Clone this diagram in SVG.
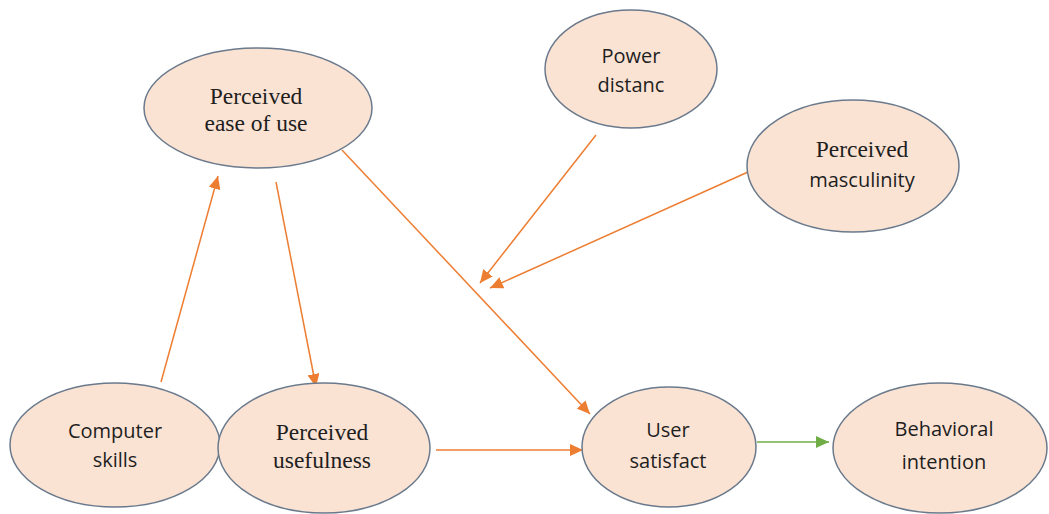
<svg xmlns="http://www.w3.org/2000/svg" width="1049" height="514" viewBox="0 0 1049 514">
<style>
.node{fill:#fbe3d4;stroke:#6a7a8c;stroke-width:1.5}
.sans{font-family:"Open Sans","Liberation Sans",sans-serif;font-size:20px;fill:#1e1e1e;text-anchor:middle}
.serif{font-family:"Liberation Serif","DejaVu Serif",serif;font-size:23.5px;fill:#1e1e1e;text-anchor:middle}
.or{stroke:#ed7d31;stroke-width:1.5;fill:none;marker-end:url(#ao)}
.gr{stroke:#70ad47;stroke-width:1.5;fill:none;marker-end:url(#ag)}
</style>
<defs>
<marker id="ao" markerUnits="userSpaceOnUse" markerWidth="14" markerHeight="12" refX="13" refY="6" orient="auto"><path d="M0,0 L13,6 L0,12 z" fill="#ed7d31"/></marker>
<marker id="ag" markerUnits="userSpaceOnUse" markerWidth="14" markerHeight="12" refX="13" refY="6" orient="auto"><path d="M0,0 L13,6 L0,12 z" fill="#70ad47"/></marker>
</defs>
<rect width="1049" height="514" fill="#fff"/>
<g id="connectors">
<line class="or" x1="161" y1="382" x2="218" y2="176"/>
<line class="or" x1="276" y1="182" x2="316" y2="387"/>
<line class="or" x1="342" y1="150" x2="590" y2="414"/>
<line class="or" x1="436" y1="450" x2="583" y2="450"/>
<line class="or" x1="596" y1="135" x2="480" y2="283"/>
<line class="or" x1="748" y1="172" x2="490" y2="288"/>
<line class="gr" x1="757" y1="442" x2="829" y2="442"/>
</g>
<g id="ease">
<ellipse class="node" cx="258" cy="108" rx="114" ry="60"/>
<text class="serif" x="256" y="104">Perceived</text>
<text class="serif" x="256" y="131">ease of use</text>
</g>
<g id="power">
<ellipse class="node" cx="631" cy="69" rx="86" ry="59"/>
<text class="sans" x="631" y="63">Power</text>
<text class="sans" x="631" y="92">distanc</text>
</g>
<g id="masculinity">
<ellipse class="node" cx="853" cy="166" rx="106" ry="66"/>
<text class="serif" x="862" y="157">Perceived</text>
<text class="sans" x="862" y="187">masculinity</text>
</g>
<g id="computer">
<ellipse class="node" cx="115" cy="445" rx="105" ry="62"/>
<text class="sans" x="115" y="438">Computer</text>
<text class="sans" x="115" y="467">skills</text>
</g>
<g id="usefulness">
<ellipse class="node" cx="324" cy="448" rx="106" ry="65"/>
<text class="serif" x="322" y="440">Perceived</text>
<text class="serif" x="322" y="468">usefulness</text>
</g>
<g id="satisfaction">
<ellipse class="node" cx="669" cy="447" rx="87" ry="60"/>
<text class="sans" x="668" y="437">User</text>
<text class="sans" x="668" y="468">satisfact</text>
</g>
<g id="intention">
<ellipse class="node" cx="940" cy="448" rx="107" ry="65"/>
<text class="sans" x="944" y="436">Behavioral</text>
<text class="sans" x="944" y="469">intention</text>
</g>
</svg>
